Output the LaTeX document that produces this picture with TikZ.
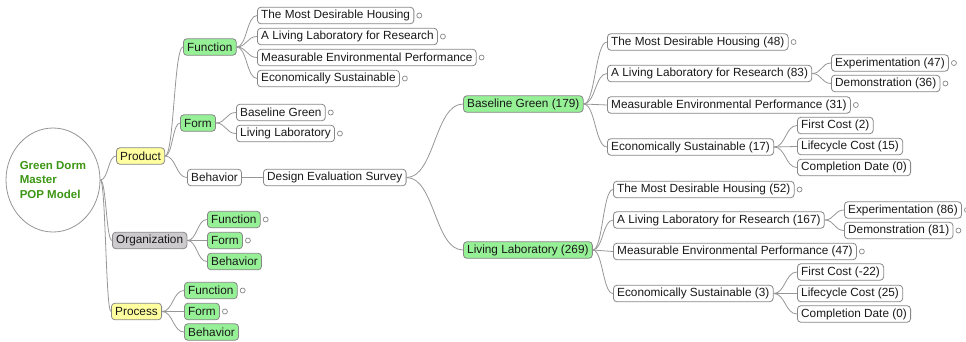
\documentclass[tikz,border=0pt]{standalone}
\usepackage{fontspec}
\setmainfont{Liberation Sans}
\usetikzlibrary{shapes.geometric,calc}
\definecolor{linkgray}{RGB}{150,150,150}
\definecolor{boxline}{RGB}{135,135,135}
\definecolor{leafgreen}{RGB}{150,240,150}
\definecolor{topyellow}{RGB}{255,255,160}
\definecolor{orggray}{RGB}{205,202,205}
\definecolor{rootgreen}{RGB}{60,150,20}
\definecolor{ink}{RGB}{25,25,25}
\tikzset{
  box/.style={draw=boxline, line width=0.8pt, rounded corners=3.5pt, fill=white,
    anchor=west, inner xsep=3.8pt, inner ysep=0pt, minimum height=16.5pt,
    text=ink, font=\fontsize{11.8}{13}\selectfont},
  gbox/.style={box, fill=leafgreen},
  ybox/.style={box, fill=topyellow},
  obox/.style={box, fill=orggray},
  dot/.style={circle, draw=boxline, fill=white, line width=0.7pt, inner sep=0pt, minimum size=5pt},
  link/.style={draw=linkgray, line width=0.8pt},
}
% curved branch from the right side of one node to the left side of another
\newcommand\lnk[2]{\draw[link] let \p1=(#1.east), \p2=(#2.west) in
  (\p1) .. controls ({(\x1+\x2)/2},\y1) and ({(\x1+\x2)/2},\y2) .. (\p2);}
% small collapsed-branch marker right of a node
\newcommand\knob[1]{\node[dot] (#1-knob) at ([xshift=5pt]#1.east) {};}
\begin{document}
\begin{tikzpicture}[x=1pt,y=-1pt]
\useasboundingbox (0,0) rectangle (966,341);

% root
\node[ellipse, draw=linkgray, fill=white, line width=0.8pt, minimum width=84pt,
  minimum height=104pt, inner sep=0pt, align=left, text=rootgreen,
  font=\bfseries\fontsize{11.5}{14.5}\selectfont] (root) at (53,180)
  {Green Dorm\\Master\\POP Model};

% first level
\node[ybox] (prod) at (116,156) {Product};
\node[obox] (org)  at (112,240.5) {Organization};
\node[ybox] (proc) at (111,311.5) {Process};

% product
\node[gbox] (pfun)  at (183,47) {Function};
\node[gbox] (pform) at (180,123) {Form};
\node[box]  (pbeh)  at (187,177.5) {Behavior};

\node[box] (f1) at (257,15.5) {The Most Desirable Housing};
\node[box] (f2) at (257,36.5) {A Living Laboratory for Research};
\node[box] (f3) at (257,57.5) {Measurable Environmental Performance};
\node[box] (f4) at (257,78.5) {Economically Sustainable};

\node[box] (m1) at (236,112.5) {Baseline Green};
\node[box] (m2) at (236,133.5) {Living Laboratory};

\node[box] (survey) at (263,177.5) {Design Evaluation Survey};

% organization
\node[gbox] (ofun)  at (207,219.5) {Function};
\node[gbox] (oform) at (207,240.5) {Form};
\node[gbox] (obeh)  at (207,261.5) {Behavior};

% process
\node[gbox] (qfun)  at (184,290.5) {Function};
\node[gbox] (qform) at (184,311.5) {Form};
\node[gbox] (qbeh)  at (184,332) {Behavior};

% survey results: baseline green
\node[gbox] (bg) at (463,104) {Baseline Green (179)};
\node[box] (bg1) at (607,42) {The Most Desirable Housing (48)};
\node[box] (bg2) at (607,73.5) {A Living Laboratory for Research (83)};
\node[box] (bg3) at (607,105) {Measurable Environmental Performance (31)};
\node[box] (bg4) at (607,147) {Economically Sustainable (17)};
\node[box] (bg2a) at (831,63) {Experimentation (47)};
\node[box] (bg2b) at (831,83.5) {Demonstration (36)};
\node[box] (bg4a) at (797,125.5) {First Cost (2)};
\node[box] (bg4b) at (797,146.5) {Lifecycle Cost (15)};
\node[box] (bg4c) at (797,167.5) {Completion Date (0)};

% survey results: living laboratory
\node[gbox] (ll) at (463,250) {Living Laboratory (269)};
\node[box] (ll1) at (613,189.5) {The Most Desirable Housing (52)};
\node[box] (ll2) at (613,220) {A Living Laboratory for Research (167)};
\node[box] (ll3) at (613,251.5) {Measurable Environmental Performance (47)};
\node[box] (ll4) at (613,293.5) {Economically Sustainable (3)};
\node[box] (ll2a) at (844,210) {Experimentation (86)};
\node[box] (ll2b) at (844,230.5) {Demonstration (81)};
\node[box] (ll4a) at (797,272) {First Cost (-22)};
\node[box] (ll4b) at (797,293.5) {Lifecycle Cost (25)};
\node[box] (ll4c) at (797,314) {Completion Date (0)};

% markers
\foreach \n in {f1,f2,f3,f4,m1,m2,ofun,oform,qfun,qform,bg1,bg3,bg2a,bg2b,ll1,ll3,ll2a,ll2b}{\knob{\n}}

% branches
\foreach \c in {prod,org,proc}{\lnk{root}{\c}}
\foreach \c in {pfun,pform,pbeh}{\lnk{prod}{\c}}
\foreach \c in {f1,f2,f3,f4}{\lnk{pfun}{\c}}
\foreach \c in {m1,m2}{\lnk{pform}{\c}}
\draw[link] (pbeh.east) -- (survey.west);
\foreach \c in {ofun,oform,obeh}{\lnk{org}{\c}}
\foreach \c in {qfun,qform,qbeh}{\lnk{proc}{\c}}
\foreach \c in {bg,ll}{\lnk{survey}{\c}}
\foreach \c in {bg1,bg2,bg3,bg4}{\lnk{bg}{\c}}
\foreach \c in {bg2a,bg2b}{\lnk{bg2}{\c}}
\foreach \c in {bg4a,bg4b,bg4c}{\lnk{bg4}{\c}}
\foreach \c in {ll1,ll2,ll3,ll4}{\lnk{ll}{\c}}
\foreach \c in {ll2a,ll2b}{\lnk{ll2}{\c}}
\foreach \c in {ll4a,ll4b,ll4c}{\lnk{ll4}{\c}}
\end{tikzpicture}
\end{document}
